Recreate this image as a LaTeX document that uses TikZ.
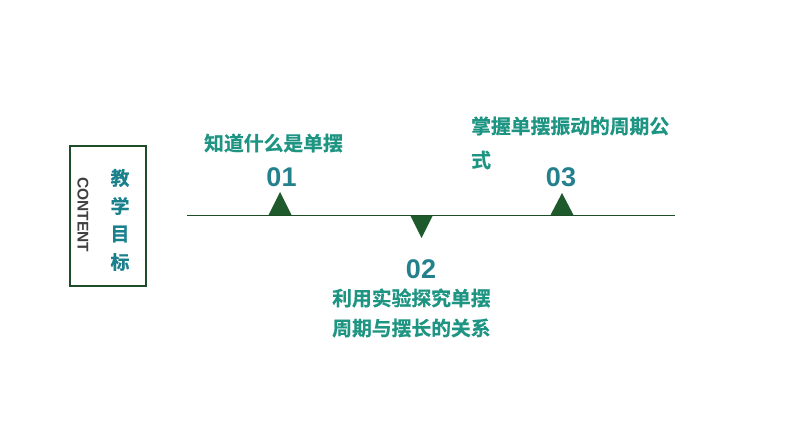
\documentclass[tikz,border=0pt]{standalone}
\usepackage{fontspec}
\setmainfont{Liberation Sans}
\newfontfamily\cjk{Noto Sans CJK SC}[BoldFont={* Bold}, BoldFeatures={FakeBold=0.6}]
\definecolor{dkgreen}{HTML}{1F5A2C}
\definecolor{linegreen}{HTML}{1E4D28}
\definecolor{tealtxt}{HTML}{1E9482}
\definecolor{tealnum}{HTML}{24808C}
\definecolor{titletxt}{HTML}{1A808C}
\begin{document}
\begin{tikzpicture}[x=1pt,y=-1pt,
  cjktext/.style={font=\cjk\bfseries\fontsize{19.8}{22}\selectfont, text=tealtxt, inner sep=0pt},
  titlechar/.style={font=\cjk\bfseries\fontsize{19}{22}\selectfont, text=titletxt, inner sep=0pt},
  numtext/.style={font=\bfseries\fontsize{27}{30}\selectfont, text=tealnum, inner sep=0pt},
  tri/.style={fill=dkgreen, draw=none}]
\useasboundingbox (0,0) rectangle (794,447);
% left box
\node[draw=linegreen, line width=1.3pt, minimum width=76pt, minimum height=140pt, inner sep=0pt] (box) at (108,216) {};
\node[rotate=-90, font=\bfseries\fontsize{15.5}{18}\selectfont, text=black!75, inner sep=0pt] (content) at (83,215) {CONTENT};
\node[titlechar] (t1) at (120,178) {教};
\node[titlechar] (t2) at (120,206) {学};
\node[titlechar] (t3) at (120,234) {目};
\node[titlechar] (t4) at (120,262) {标};
% timeline
\coordinate (ls) at (187,215.5);
\coordinate (le) at (675,215.5);
\draw[linegreen, line width=1.8pt] (ls) -- (le);
% triangles
\fill[tri] (268.5,215) -- (280,192) -- (291.5,215) -- cycle;
\fill[tri] (550.5,215) -- (562,193) -- (573.5,215) -- cycle;
\fill[tri] (410.5,216) -- (432.5,216) -- (421.5,238) -- cycle;
% numbers
\node[numtext] (n1) at (281.5,177) {01};
\node[numtext] (n3) at (561,177) {03};
\node[numtext] (n2) at (421,269) {02};
% labels
\node[cjktext, anchor=west] (l1) at (204,143) {知道什么是单摆};
\node[cjktext, anchor=west] (l3a) at (471,126) {掌握单摆振动的周期公};
\node[cjktext, anchor=west] (l3b) at (471,160) {式};
\node[cjktext, anchor=west] (l2a) at (332,298) {利用实验探究单摆};
\node[cjktext, anchor=west] (l2b) at (332,328) {周期与摆长的关系};
\end{tikzpicture}
\end{document}
